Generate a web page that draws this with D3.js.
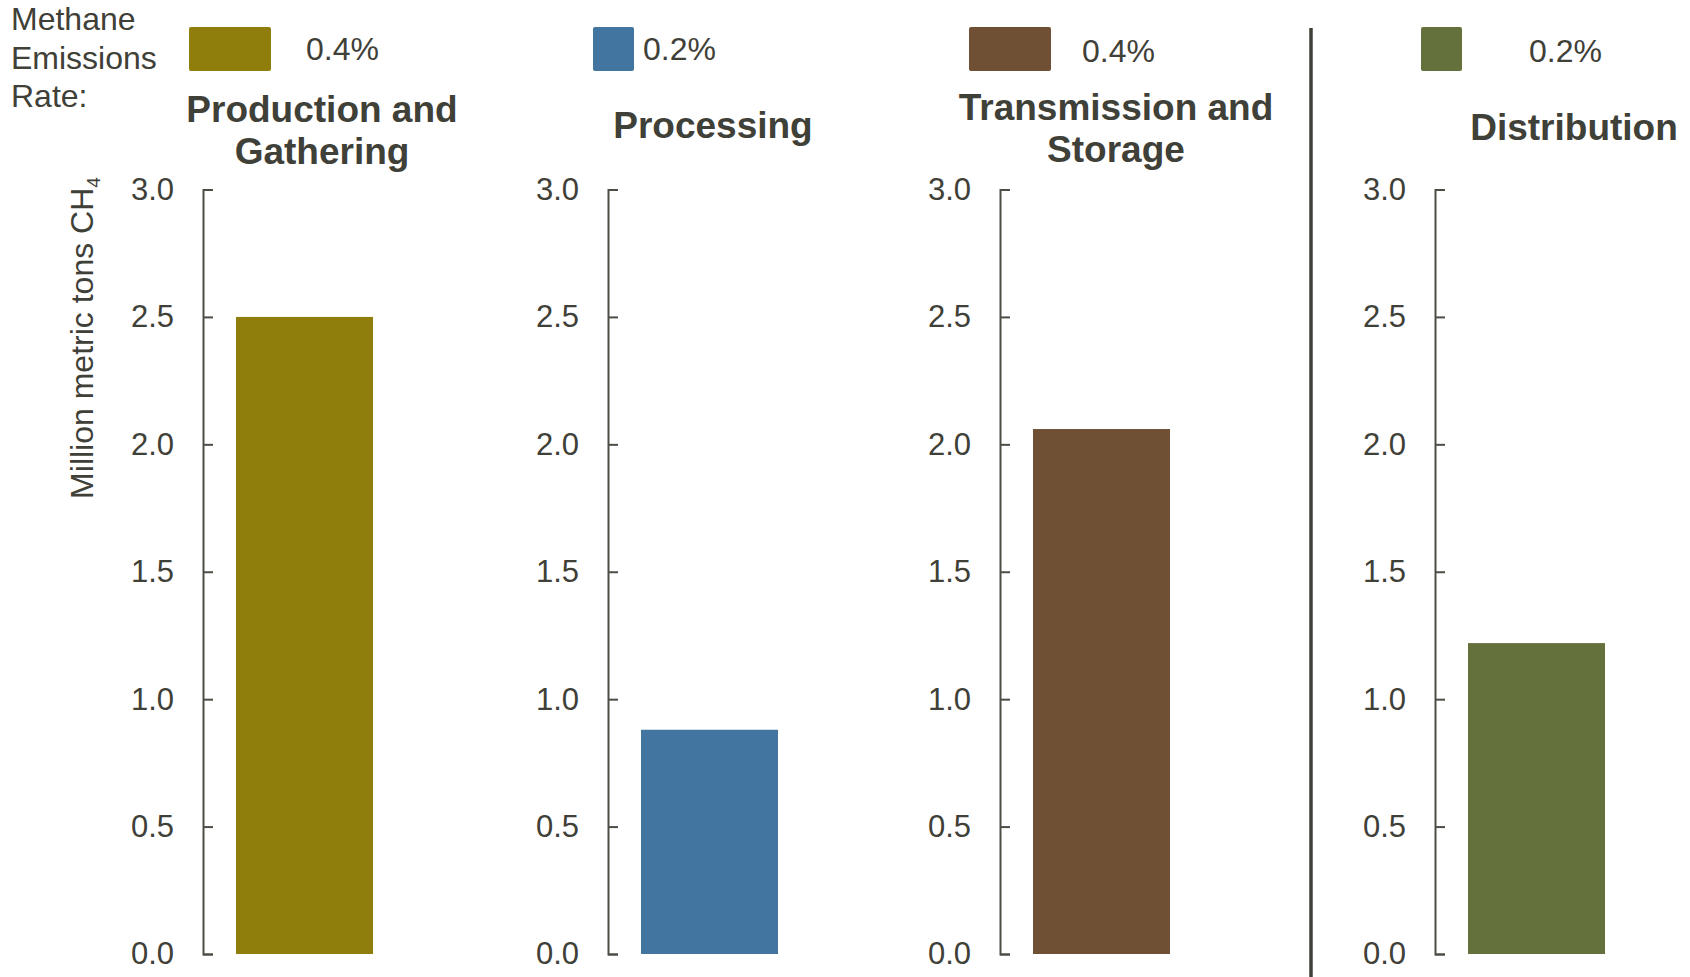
<!DOCTYPE html>
<html>
<head>
<meta charset="utf-8">
<script src="https://cdn.jsdelivr.net/npm/d3@7"></script>
<style>
  body { margin: 0; background: #fff; }
  svg { display: block; font-family: "Liberation Sans", Arial, sans-serif; }
</style>
</head>
<body>
<svg id="chart" width="1690" height="977"></svg>
<script>
// Methane emissions by natural gas segment, with segment emission rate in the legend row
const segments = ["Production and Gathering", "Processing", "Transmission and Storage", "Distribution"];
const titleLines = [["Production and", "Gathering"], ["Processing"], ["Transmission and", "Storage"], ["Distribution"]];
const emissions = [2.5, 0.88, 2.06, 1.22];       // million metric tons CH4
const emissionRates = [0.4, 0.2, 0.4, 0.2];      // percent
const yTicks = [0, 0.5, 1.0, 1.5, 2.0, 2.5, 3.0];

const colors = ["#8f7e0c", "#4275a0", "#6f5034", "#65713c"];
const TEXT = "#3f4038", AXIS = "#4d4d45";

// layout for each small panel (axis line, title centre, legend swatch, legend text)
const axisX = [203, 608, 1000, 1435];
const titleX = [322, 713, 1116, 1574];
const titleY = [122, 138, 120, 140];
const swatchX = [189, 593, 969, 1421];
const rateX = [306, 643, 1082, 1529];
const rateY = [60, 60, 62, 62];

const svg = d3.select("#chart");
const y = d3.scaleLinear().domain([0, 3]).range([954, 189.5]);
const swatchW = d3.scaleLinear().domain([0, 0.4]).range([0, 82]);

// "Methane Emissions Rate:" legend header
svg.append("text")
    .attr("x", 11).attr("y", 30)
    .style("font-size", "32px").style("fill", TEXT)
    .selectAll("tspan").data(["Methane", "Emissions", "Rate:"]).enter().append("tspan")
    .attr("x", 11).attr("dy", (d, i) => i ? 38.5 : 0)
    .text(d => d);

// y axis title
const yl = svg.append("text")
    .attr("transform", "translate(93,338) rotate(-90)")
    .attr("text-anchor", "middle")
    .style("font-size", "32px").style("fill", TEXT)
    .text("Million metric tons CH");
yl.append("tspan").attr("dy", 7).style("font-size", "19px").text("4");

segments.forEach((seg, i) => {
    const g = svg.append("g");

    // legend swatch, width follows the emission rate
    g.append("rect")
        .attr("x", swatchX[i]).attr("y", 27)
        .attr("width", swatchW(emissionRates[i])).attr("height", 44)
        .attr("rx", 2).attr("fill", colors[i]);
    g.append("text")
        .attr("x", rateX[i]).attr("y", rateY[i])
        .style("font-size", "32px").style("fill", TEXT)
        .text(d3.format(".1f")(emissionRates[i]) + "%");

    // panel title
    g.append("text")
        .attr("x", titleX[i]).attr("y", titleY[i])
        .attr("text-anchor", "middle")
        .style("font-size", "37px").style("font-weight", "bold").style("fill", TEXT)
        .selectAll("tspan").data(titleLines[i]).enter().append("tspan")
        .attr("x", titleX[i]).attr("dy", (d, j) => j ? 42 : 0)
        .text(d => d);

    // axis, ticks pointing into the plot
    const ax = g.append("g")
        .attr("transform", `translate(${axisX[i]},0)`)
        .call(d3.axisLeft(y).tickValues(yTicks).tickFormat(d3.format(".1f"))
            .tickSize(-10).tickPadding(29));
    ax.attr("font-family", null).attr("font-size", null);
    ax.selectAll("path, line").attr("stroke", AXIS).attr("stroke-width", 2);
    ax.selectAll("text").style("font-size", "31px").attr("fill", TEXT);

    // bar
    const x = d3.scaleBand().domain([seg]).range([axisX[i] + 33, axisX[i] + 170]);
    g.append("rect")
        .attr("x", x(seg)).attr("width", x.bandwidth())
        .attr("y", y(emissions[i])).attr("height", y(0) - y(emissions[i]))
        .attr("fill", colors[i]);
});

// divider before Distribution
svg.append("line")
    .attr("x1", 1311).attr("x2", 1311)
    .attr("y1", 28).attr("y2", 977)
    .attr("stroke", TEXT).attr("stroke-width", 3.5);
</script>
</body>
</html>
